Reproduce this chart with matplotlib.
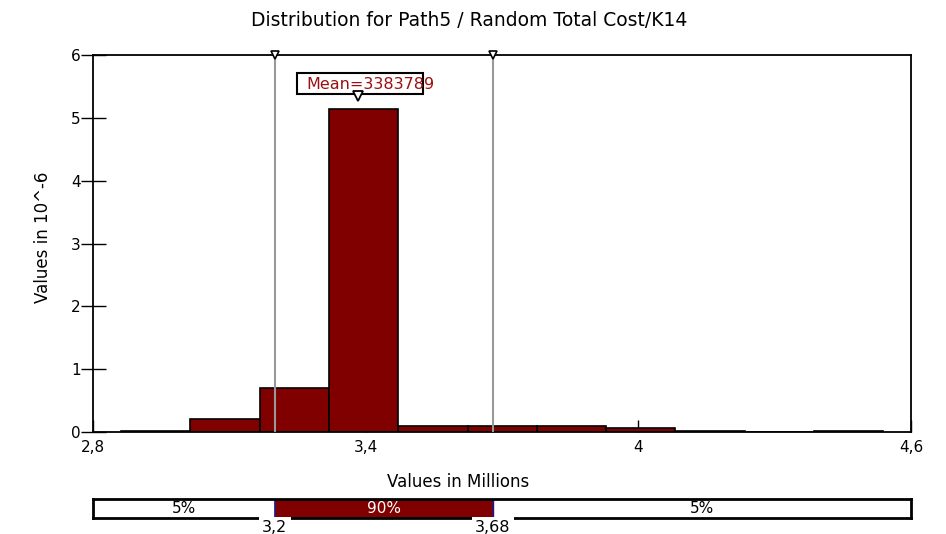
import matplotlib
matplotlib.use("Agg")
import matplotlib.pyplot as plt
from matplotlib.patches import Rectangle
from matplotlib.ticker import FuncFormatter

plt.rcParams['font.family'] = ['DejaVu Sans']

# Histogram bins (values in millions) and densities (values in 10^-6)
bin_left = [2.8616, 3.0141, 3.1666, 3.3191, 3.4716, 3.6241, 3.7766, 3.9291, 4.0816, 4.2341, 4.3866]
bin_width = 0.1525
density = [0.01, 0.20, 0.70, 5.14, 0.10, 0.10, 0.10, 0.07, 0.01, 0.0, 0.01]

mean_value = 3.383789
mean_label = "Mean=3383789"
lower_pct, upper_pct = 3.2, 3.68
band_labels = ["5%", "90%", "5%"]
x_ticks = [2.8, 3.4, 4.0, 4.6]
y_ticks = [0, 1, 2, 3, 4, 5, 6]

bar_red = "#800000"

def comma_fmt(v, pos=None):
    s = f"{v:.2f}".rstrip("0").rstrip(".")
    return s.replace(".", ",")

fig = plt.figure(figsize=(9.46, 5.34), dpi=100)
ax = fig.add_axes([93/946, (534-432)/534, (911-93)/946, (432-55)/534])

ax.bar(bin_left, density, width=bin_width, align="edge", color=bar_red,
       edgecolor="black", linewidth=1.2, zorder=2)

ax.set_xlim(2.8, 4.6)
ax.set_ylim(0, 6)
ax.set_xticks(x_ticks)
ax.set_yticks(y_ticks)
ax.xaxis.set_major_formatter(FuncFormatter(comma_fmt))
ax.tick_params(axis="x", direction="in", length=9, width=1, labelsize=11, pad=6)
ax.tick_params(axis="y", direction="inout", length=18, width=1, labelsize=11, pad=0)
for sp in ax.spines.values():
    sp.set_linewidth(1.3)

# Percentile markers
for xv in (lower_pct, upper_pct):
    ax.axvline(xv, color="#999999", lw=1.5, zorder=3)
    ax.plot([xv], [6], marker="v", markersize=6, mfc="white", mec="black",
            mew=1.2, clip_on=False, zorder=5)

# Mean annotation: framed label with a pointer to the mean
ax.add_patch(Rectangle((3.2483, 5.380), 3.5262 - 3.2483, 5.719 - 5.380,
                       fc="white", ec="black", lw=1.5, zorder=5))
ax.text(3.2703, 5.53, mean_label, color="#9b1010", fontsize=11.5, va="center",
        ha="left", zorder=6)
ax.plot([mean_value], [5.35], marker="v", markersize=6.5, mfc="white", mec="black",
        mew=1.3, zorder=7)

fig.text(469/946, 1 - 21/534, "Distribution for Path5 / Random Total Cost/K14",
         ha="center", va="center", fontsize=13.5)
fig.text(43/946, 1 - 237/534, "Values in 10^-6", rotation=90,
         ha="center", va="center", fontsize=12)
fig.text(458/946, 1 - 482/534, "Values in Millions", ha="center", va="center",
         fontsize=12)

# Percentile band below the chart
bx = fig.add_axes([93/946, (534-518)/534, (911-93)/946, 19/534])
bx.set_xlim(2.8, 4.6)
bx.set_ylim(0, 1)
bx.axvspan(lower_pct, upper_pct, color=bar_red, zorder=1)
for xv in (lower_pct, upper_pct):
    bx.axvline(xv, color="#1a1a8c", lw=1.2, zorder=2)
bx.set_xticks([])
bx.set_yticks([])
for sp in bx.spines.values():
    sp.set_linewidth(2)
centers = [(2.8 + lower_pct) / 2, (lower_pct + upper_pct) / 2, (upper_pct + 4.6) / 2]
colors = ["black", "white", "black"]
for c, lab, col in zip(centers, band_labels, colors):
    bx.text(c, 0.5, lab, ha="center", va="center", fontsize=11, color=col)
for xv in (lower_pct, upper_pct):
    bx.text(xv, -0.5, comma_fmt(xv), ha="center", va="center", fontsize=11.5,
            bbox=dict(boxstyle="square,pad=0.2", fc="white", ec="none"),
            clip_on=False, zorder=5)

fig.savefig("out.png", dpi=100)
